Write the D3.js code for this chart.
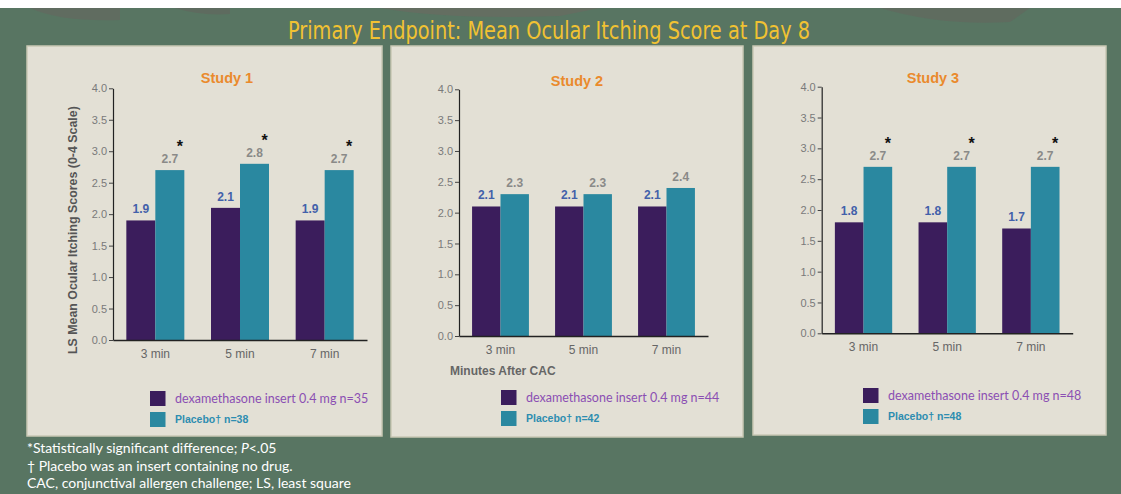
<!DOCTYPE html>
<html><head><meta charset="utf-8">
<script src="https://cdn.jsdelivr.net/npm/d3@7"></script>
<style>
html,body{margin:0;padding:0;background:#fff;}
svg{display:block;}
</style></head>
<body>
<svg id="chart" width="1121" height="494"></svg>
<script>
// ---- data ----
const chartTitle = "Primary Endpoint: Mean Ocular Itching Score at Day 8";
const studies = ["Study 1", "Study 2", "Study 3"];
const categories = ["3 min", "5 min", "7 min"];
const dexValues = [[1.9, 2.1, 1.9], [2.1, 2.1, 2.1], [1.8, 1.8, 1.7]];
const placeboValues = [[2.7, 2.8, 2.7], [2.3, 2.3, 2.4], [2.7, 2.7, 2.7]];
const significant = [[true, true, true], [false, false, false], [true, true, true]];
const dexN = [35, 44, 48];
const placeboN = [38, 42, 48];
const yTicks = [0, 0.5, 1.0, 1.5, 2.0, 2.5, 3.0, 3.5, 4.0];
const yAxisTitle = "LS Mean Ocular Itching Scores (0-4 Scale)";
const xAxisTitle = "Minutes After CAC";
const footnotes = ["*Statistically significant difference; ", "\u2020 Placebo was an insert containing no drug.", "CAC, conjunctival allergen challenge; LS, least square"];

// ---- layout ----
const panels = [
  {rx: 27, ry: 46, rw: 355, rh: 390, x0: 113, x1: 367, y0: 340, y1: 88.3, titleX: 227, titleY: 83, legX: 150, legY: 391},
  {rx: 391, ry: 46, rw: 352, rh: 391, x0: 459, x1: 708, y0: 336, y1: 89.3, titleX: 577, titleY: 86, legX: 501, legY: 390},
  {rx: 753, ry: 46, rw: 353, rh: 389, x0: 821.7, x1: 1072.7, y0: 333.3, y1: 86.7, titleX: 933, titleY: 83, legX: 863, legY: 388}
];
const colDex = "#3b1d5c", colPla = "#2a88a0";

const svg = d3.select("#chart");
svg.append("rect").attr("x", 0).attr("y", 0).attr("width", 1121).attr("height", 494).attr("fill", "#ffffff");
svg.append("rect").attr("x", 0).attr("y", 8).attr("width", 1121).attr("height", 486).attr("fill", "#587562");

// faint decorative shapes at top
const deco = svg.append("g").attr("opacity", 0.35);
deco.append("path").attr("d", "M30,8 Q60,22 120,20 L120,8 Z").attr("fill", "#6f5e5e");
deco.append("path").attr("d", "M175,8 Q200,16 230,14 L230,8 Z").attr("fill", "#6b5a5a");
deco.append("path").attr("d", "M380,8 Q450,20 560,16 L600,8 Z").attr("fill", "#7a6060");
deco.append("path").attr("d", "M880,8 Q940,26 1010,22 L1030,8 Z").attr("fill", "#6d5d5d");

svg.append("text").attr("x", 549).attr("y", 39).attr("text-anchor", "middle")
  .attr("font-family", "'Liberation Sans Narrow','DejaVu Sans Condensed',sans-serif")
  .attr("font-size", 24).attr("fill", "#f1c232").attr("textLength", 522).attr("lengthAdjust", "spacingAndGlyphs")
  .text(chartTitle);

panels.forEach((p, i) => {
  const g = svg.append("g");
  g.append("rect").attr("x", p.rx).attr("y", p.ry).attr("width", p.rw).attr("height", p.rh)
    .attr("fill", "#e3e0d5").attr("stroke", "#c9c8b4").attr("stroke-width", 1.5);

  const x = d3.scaleBand().domain(categories).range([p.x0, p.x1]).paddingInner(0.315).paddingOuter(0.1575);
  const xs = d3.scaleBand().domain(["dex", "pla"]).range([0, x.bandwidth()]);
  const y = d3.scaleLinear().domain([0, 4]).range([p.y0, p.y1]);

  g.append("text").attr("x", p.titleX).attr("y", p.titleY).attr("text-anchor", "middle")
    .attr("font-family", "Arial, 'Liberation Sans', sans-serif").attr("font-weight", "bold")
    .attr("font-size", 14.5).attr("fill", "#ea8a2c").text(studies[i]);

  const groups = g.selectAll("g.grp").data(categories).join("g").attr("class", "grp")
    .attr("transform", d => `translate(${x(d)},0)`);
  groups.append("rect").attr("x", xs("dex")).attr("width", xs.bandwidth())
    .attr("y", (d, j) => y(dexValues[i][j])).attr("height", (d, j) => p.y0 - y(dexValues[i][j])).attr("fill", colDex);
  groups.append("rect").attr("x", xs("pla")).attr("width", xs.bandwidth())
    .attr("y", (d, j) => y(placeboValues[i][j])).attr("height", (d, j) => p.y0 - y(placeboValues[i][j])).attr("fill", colPla);
  groups.append("text").attr("x", xs("dex") + xs.bandwidth() / 2).attr("y", (d, j) => y(dexValues[i][j]) - 7)
    .attr("text-anchor", "middle").attr("font-family", "Arial, 'Liberation Sans', sans-serif").attr("font-weight", "bold")
    .attr("font-size", 12).attr("fill", "#4261aa").text((d, j) => dexValues[i][j].toFixed(1));
  groups.append("text").attr("x", xs("pla") + xs.bandwidth() / 2).attr("y", (d, j) => y(placeboValues[i][j]) - 7)
    .attr("text-anchor", "middle").attr("font-family", "Arial, 'Liberation Sans', sans-serif").attr("font-weight", "bold")
    .attr("font-size", 12).attr("fill", "#8a8a88").text((d, j) => placeboValues[i][j].toFixed(1));
  groups.filter((d, j) => significant[i][j]).append("text")
    .attr("x", xs("pla") + xs.bandwidth() / 2 + 10)
    .attr("y", d => y(placeboValues[i][categories.indexOf(d)]) - 18)
    .attr("text-anchor", "middle").attr("font-family", "Arial, 'Liberation Sans', sans-serif").attr("font-weight", "bold")
    .attr("font-size", 16).attr("fill", "#111").text("*");

  // axes
  const ya = g.append("g").attr("transform", `translate(${p.x0},0)`)
    .call(d3.axisLeft(y).tickValues(yTicks).tickFormat(d3.format(".1f")).tickSize(4).tickSizeOuter(0).tickPadding(2));
  ya.select(".domain").attr("stroke", "#222").attr("stroke-width", 1.2);
  ya.selectAll(".tick line").attr("stroke", "#444");
  ya.selectAll(".tick text").attr("font-family", "Arial, 'Liberation Sans', sans-serif").attr("font-size", 11).attr("fill", "#7a7a7a");
  const xa = g.append("g").attr("transform", `translate(0,${p.y0})`)
    .call(d3.axisBottom(x).tickSize(0).tickPadding(9));
  xa.select(".domain").attr("stroke", "#222").attr("stroke-width", 1.5);
  xa.selectAll(".tick text").attr("font-family", "Arial, 'Liberation Sans', sans-serif").attr("font-size", 12).attr("fill", "#666");

  // legend
  g.append("rect").attr("x", p.legX).attr("y", p.legY).attr("width", 15.5).attr("height", 15).attr("fill", colDex);
  g.append("rect").attr("x", p.legX).attr("y", p.legY + 21).attr("width", 15.5).attr("height", 15).attr("fill", colPla);
  g.append("text").attr("x", p.legX + 25).attr("y", p.legY + 12).attr("font-family", "Lato, 'Open Sans', sans-serif")
    .attr("font-size", 12.5).attr("fill", "#8b4fb3").text(`dexamethasone insert 0.4 mg n=${dexN[i]}`);
  g.append("text").attr("x", p.legX + 25).attr("y", p.legY + 32).attr("font-family", "Arial, 'Liberation Sans', sans-serif")
    .attr("font-weight", "bold").attr("font-size", 10.5).attr("fill", "#2d8db0").text(`Placebo\u2020 n=${placeboN[i]}`);

  if (i === 0) {
    g.append("text").attr("transform", `translate(77,${(p.y0 + p.y1) / 2 + 16}) rotate(-90)`).attr("text-anchor", "middle")
      .attr("font-family", "Arial, 'Liberation Sans', sans-serif").attr("font-weight", "bold").attr("font-size", 12.4)
      .attr("fill", "#555").text(yAxisTitle);
  }
  if (i === 1) {
    g.append("text").attr("x", 450).attr("y", 375).attr("font-family", "Arial, 'Liberation Sans', sans-serif")
      .attr("font-weight", "bold").attr("font-size", 12).attr("fill", "#666").text(xAxisTitle);
  }
});

// footnotes
const fn = svg.append("g").attr("font-family", "Lato, 'Open Sans', sans-serif").attr("font-size", 14).attr("fill", "#ffffff");
const t0 = fn.append("text").attr("x", 27).attr("y", 453);
t0.append("tspan").text(footnotes[0]);
t0.append("tspan").attr("font-style", "italic").text("P");
t0.append("tspan").text("<.05");
fn.append("text").attr("x", 27).attr("y", 471).text(footnotes[1]);
fn.append("text").attr("x", 27).attr("y", 488).text(footnotes[2]);
</script>
</body></html>
